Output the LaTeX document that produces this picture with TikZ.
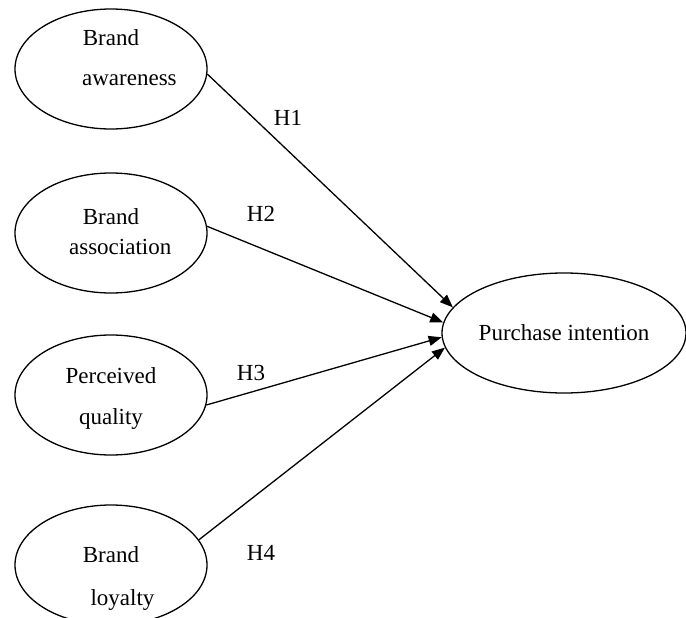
\documentclass[tikz,border=0pt]{standalone}
\usepackage{fontspec}
\setmainfont{Liberation Serif}
\usepackage{tikz}
\usetikzlibrary{arrows.meta, positioning, shapes.geometric}

\newcommand{\twolines}[4]{\raisebox{\dimexpr#4-0.25em-4pt\relax}[0pt][0pt]{\begin{tabular}{@{}c@{}}#1\\[#3]#2\end{tabular}}}

\begin{document}
\begin{tikzpicture}[x=1pt, y=-1pt,
      construct/.style={ellipse, draw, line width=1.3pt, align=center, inner sep=0pt,
                        minimum width=192pt, minimum height=120pt,
                        font=\fontsize{23}{27}\selectfont},
      hyp/.style={-{Triangle[length=13pt, width=10pt]}, line width=1.3pt},
      hlabel/.style={font=\fontsize{23}{27}\selectfont},
    ]
    \clip (0,0) rectangle (686,618);
    \node[construct] (aware) at (111,69) {\twolines{Brand}{\hspace*{1.6em}awareness}{13pt}{12pt}};
    \node[construct] (assoc) at (111,233) {\twolines{Brand}{\hspace*{0.8em}association}{3pt}{2.5pt}};
    \node[construct] (qual) at (111,395) {\twolines{Perceived}{quality}{14pt}{0pt}};
    \node[construct] (loyal) at (111,565) {\twolines{Brand}{\hspace*{1em}loyalty}{16pt}{-10pt}};
    \node[construct, minimum width=244pt] (intent) at (564,333) {Purchase intention};
    \draw[hyp] (aware.-3) -- (intent.167);
    \draw[hyp] (assoc.4) -- (intent.175);
    \draw[hyp] (qual.-6) -- (intent.182);
    \draw[hyp] (loyal.16) -- (intent.187);
    \node[hlabel] (h1) at (288,118) {H1};
    \node[hlabel] (h2) at (261,214) {H2};
    \node[hlabel] (h3) at (251,373) {H3};
    \node[hlabel] (h4) at (261,553) {H4};
  \end{tikzpicture}
\end{document}
